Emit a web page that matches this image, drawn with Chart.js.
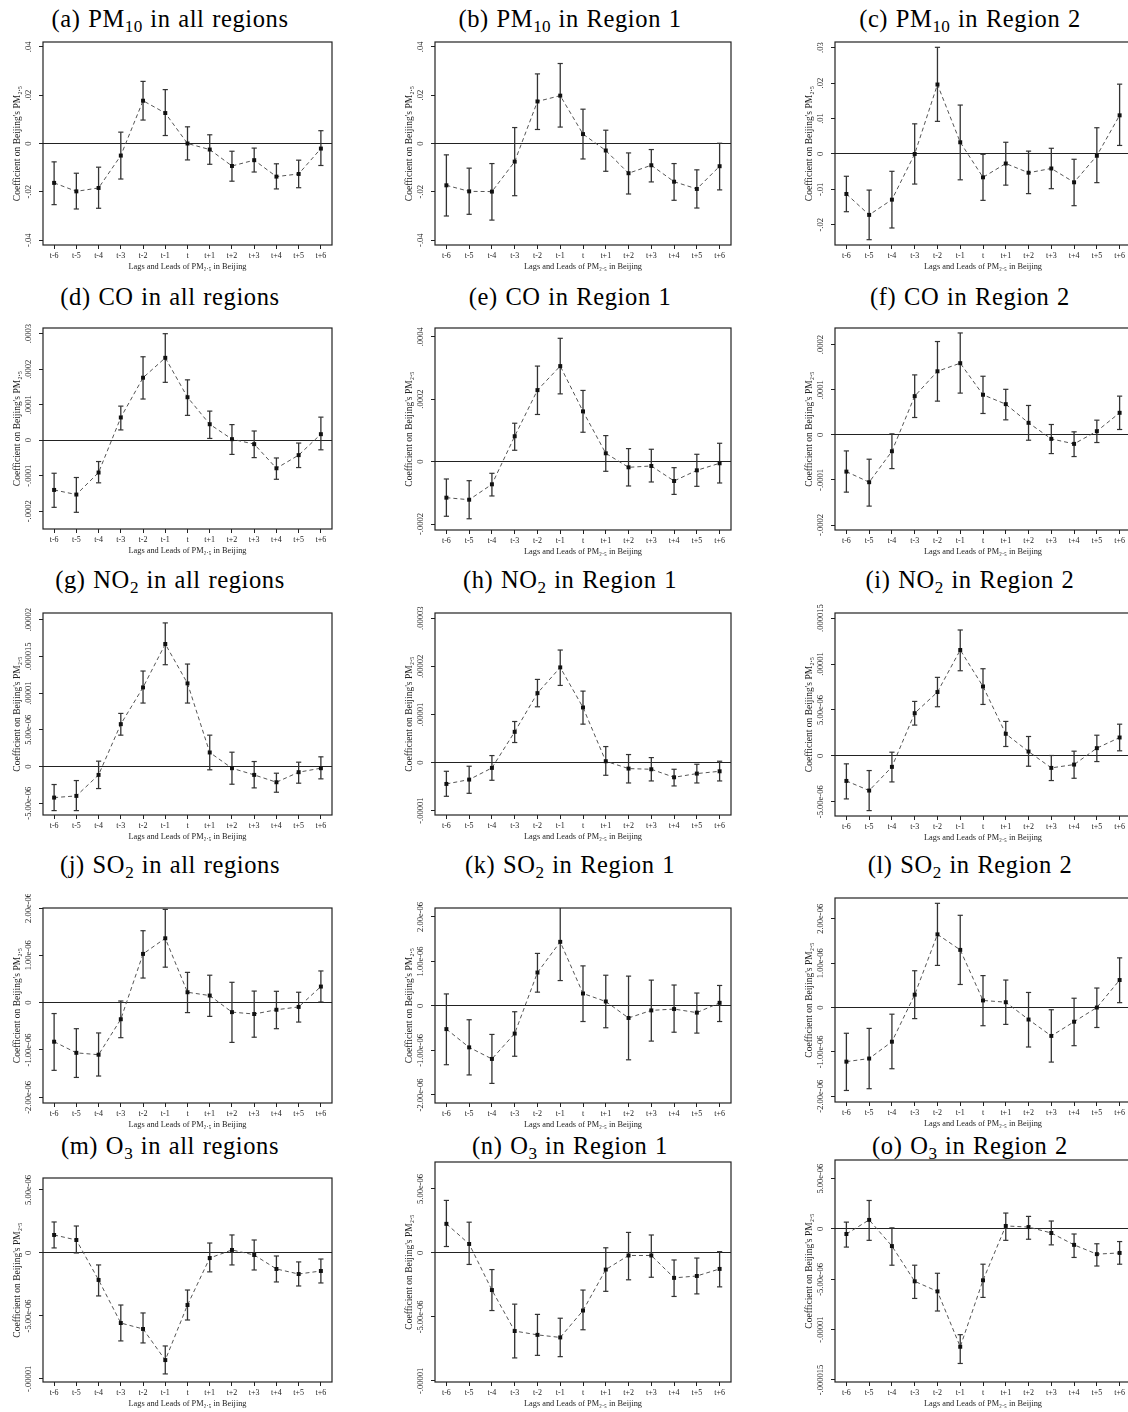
<!DOCTYPE html>
<html>
<head>
<meta charset="utf-8">
<script src="https://cdn.jsdelivr.net/npm/chart.js@4/dist/chart.umd.min.js"></script>
<style>
html, body { margin: 0; padding: 0; background: #fff; }
#page { position: relative; width: 1128px; height: 1412px; overflow: hidden; font-family: "Liberation Serif", "Times New Roman", serif; }
.ttl { position: absolute; white-space: nowrap; font-size: 24.5px; letter-spacing: 0.6px; word-spacing: 1px; color: #000; transform: translate(-50%, -50%); line-height: 1; }
.ttl sub { font-size: 0.7em; vertical-align: -0.3em; line-height: 0; letter-spacing: 0.3px; }
canvas { position: absolute; }
</style>
</head>
<body>
<div id="page"></div>
<script>
const xLabels = ["t-6", "t-5", "t-4", "t-3", "t-2", "t-1", "t", "t+1", "t+2", "t+3", "t+4", "t+5", "t+6"];

// (a) PM10, all regions
const aEst = [-0.0163, -0.0198, -0.0184, -0.0050, 0.0177, 0.0126, 0.0000, -0.0025, -0.0093, -0.0069, -0.0137, -0.0126, -0.0021];
const aLo  = [-0.0253, -0.0271, -0.0268, -0.0147, 0.0097, 0.0033, -0.0068, -0.0086, -0.0156, -0.0118, -0.0188, -0.0183, -0.0091];
const aHi  = [-0.0076, -0.0123, -0.0098, 0.0047, 0.0257, 0.0223, 0.0069, 0.0036, -0.0032, -0.0019, -0.0084, -0.0069, 0.0053];
const aTicks = [".04", ".02", "0", "-.02", "-.04"];
const aRange = [-0.042, 0.042];

// (b) PM10, region 1
const bEst = [-0.0173, -0.0198, -0.0199, -0.0075, 0.0174, 0.0198, 0.0039, -0.0029, -0.0123, -0.0090, -0.0158, -0.0188, -0.0094];
const bLo  = [-0.0300, -0.0293, -0.0317, -0.0216, 0.0058, 0.0068, -0.0064, -0.0115, -0.0209, -0.0159, -0.0235, -0.0267, -0.0192];
const bHi  = [-0.0047, -0.0102, -0.0083, 0.0066, 0.0288, 0.0331, 0.0142, 0.0055, -0.0039, -0.0025, -0.0083, -0.0109, 0.0001];
const bTicks = [".04", ".02", "0", "-.02", "-.04"];
const bRange = [-0.042, 0.042];

// (c) PM10, region 2
const cEst = [-0.0113, -0.0172, -0.0129, 0.0000, 0.0196, 0.0033, -0.0066, -0.0027, -0.0053, -0.0041, -0.0080, -0.0005, 0.0109];
const cLo  = [-0.0163, -0.0242, -0.0209, -0.0085, 0.0092, -0.0073, -0.0131, -0.0088, -0.0112, -0.0098, -0.0146, -0.0081, 0.0024];
const cHi  = [-0.0063, -0.0102, -0.0049, 0.0085, 0.0301, 0.0138, -0.0001, 0.0033, 0.0008, 0.0016, -0.0015, 0.0074, 0.0197];
const cTicks = [".03", ".02", ".01", "0", "-.01", "-.02"];
const cRange = [-0.0257, 0.0316];

// (d) CO, all regions
const dEst = [-1.40e-4, -1.53e-4, -0.91e-4, 0.64e-4, 1.76e-4, 2.32e-4, 1.21e-4, 0.45e-4, 0.03e-4, -0.11e-4, -0.79e-4, -0.42e-4, 0.17e-4];
const dLo  = [-1.89e-4, -2.03e-4, -1.20e-4, 0.29e-4, 1.16e-4, 1.63e-4, 0.70e-4, 0.05e-4, -0.40e-4, -0.49e-4, -1.10e-4, -0.77e-4, -0.27e-4];
const dHi  = [-0.93e-4, -1.05e-4, -0.60e-4, 0.96e-4, 2.35e-4, 3.00e-4, 1.70e-4, 0.82e-4, 0.44e-4, 0.26e-4, -0.50e-4, -0.08e-4, 0.65e-4];
const dTicks = [".0003", ".0002", ".0001", "0", "-.0001", "-.0002"];
const dRange = [-2.5e-4, 3.16e-4];

// (e) CO, region 1
const eEst = [-1.155e-4, -1.22e-4, -0.727e-4, 0.813e-4, 2.29e-4, 3.06e-4, 1.61e-4, 0.267e-4, -0.182e-4, -0.139e-4, -0.62e-4, -0.278e-4, -0.053e-4];
const eLo  = [-1.75e-4, -1.83e-4, -1.10e-4, 0.364e-4, 1.51e-4, 2.17e-4, 0.941e-4, -0.31e-4, -0.78e-4, -0.652e-4, -1.05e-4, -0.791e-4, -0.684e-4];
const eHi  = [-0.556e-4, -0.61e-4, -0.374e-4, 1.23e-4, 3.06e-4, 3.95e-4, 2.28e-4, 0.834e-4, 0.417e-4, 0.396e-4, -0.193e-4, 0.235e-4, 0.588e-4];
const eTicks = [".0004", ".0002", "0", "-.0002"];
const eRange = [-2.19e-4, 4.28e-4];

// (f) CO, region 2
const fEst = [-0.815e-4, -1.05e-4, -0.363e-4, 0.859e-4, 1.41e-4, 1.59e-4, 0.889e-4, 0.681e-4, 0.267e-4, -0.089e-4, -0.20e-4, 0.081e-4, 0.489e-4];
const fLo  = [-1.27e-4, -1.58e-4, -0.748e-4, 0.385e-4, 0.748e-4, 0.926e-4, 0.474e-4, 0.333e-4, -0.119e-4, -0.415e-4, -0.481e-4, -0.17e-4, 0.119e-4];
const fHi  = [-0.356e-4, -0.54e-4, 0.022e-4, 1.33e-4, 2.07e-4, 2.26e-4, 1.30e-4, 1.01e-4, 0.652e-4, 0.23e-4, 0.067e-4, 0.326e-4, 0.859e-4];
const fTicks = [".0002", ".0001", "0", "-.0001", "-.0002"];
const fRange = [-2.11e-4, 2.37e-4];

// (g) NO2, all regions
const gEst = [-4.23e-6, -4.0e-6, -1.14e-6, 5.77e-6, 10.77e-6, 16.68e-6, 11.32e-6, 1.91e-6, -0.23e-6, -1.14e-6, -2.14e-6, -0.77e-6, -0.23e-6];
const gLo  = [-6.0e-6, -6.0e-6, -3.0e-6, 4.27e-6, 8.64e-6, 13.86e-6, 8.64e-6, -0.45e-6, -2.41e-6, -2.91e-6, -3.5e-6, -2.27e-6, -1.68e-6];
const gHi  = [-2.45e-6, -1.91e-6, 0.73e-6, 7.23e-6, 13.0e-6, 19.55e-6, 13.95e-6, 4.27e-6, 1.95e-6, 0.68e-6, -0.91e-6, 0.59e-6, 1.32e-6];
const gTicks = [".00002", ".000015", ".00001", "5.00e-06", "0", "-5.00e-06"];
const gRange = [-6.6e-6, 20.9e-6];

// (h) NO2, region 1
const hEst = [-4.44e-6, -3.54e-6, -1.11e-6, 6.39e-6, 14.44e-6, 19.79e-6, 11.46e-6, 0.28e-6, -1.25e-6, -1.39e-6, -3.06e-6, -2.29e-6, -1.81e-6];
const hLo  = [-7.01e-6, -6.39e-6, -3.68e-6, 4.17e-6, 11.6e-6, 16.04e-6, 7.99e-6, -2.64e-6, -4.24e-6, -3.82e-6, -4.86e-6, -4.24e-6, -3.82e-6];
const hHi  = [-1.81e-6, -0.76e-6, 1.46e-6, 8.54e-6, 17.29e-6, 23.4e-6, 14.86e-6, 3.33e-6, 1.67e-6, 1.04e-6, -1.39e-6, -0.35e-6, 0.28e-6];
const hTicks = [".00003", ".00002", ".00001", "0", "-.00001"];
const hRange = [-10.9e-6, 31.1e-6];

// (i) NO2, region 2
const iEst = [-2.73e-6, -3.78e-6, -1.2e-6, 4.65e-6, 6.95e-6, 11.53e-6, 7.56e-6, 2.4e-6, 0.47e-6, -1.31e-6, -0.95e-6, 0.84e-6, 2.0e-6];
const iLo  = [-4.69e-6, -5.96e-6, -2.84e-6, 3.35e-6, 5.35e-6, 9.27e-6, 5.6e-6, 1.02e-6, -1.13e-6, -2.69e-6, -2.44e-6, -0.62e-6, 0.55e-6];
const iHi  = [-0.87e-6, -1.6e-6, 0.4e-6, 5.93e-6, 8.55e-6, 13.71e-6, 9.49e-6, 3.75e-6, 2.11e-6, 0.04e-6, 0.51e-6, 2.25e-6, 3.45e-6];
const iTicks = [".000015", ".00001", "5.00e-06", "0", "-5.00e-06"];
const iRange = [-6.55e-6, 15.56e-6];

// (j) SO2, all regions
const jEst = [-0.825e-6, -1.06e-6, -1.1e-6, -0.35e-6, 1.03e-6, 1.36e-6, 0.22e-6, 0.15e-6, -0.2e-6, -0.24e-6, -0.15e-6, -0.09e-6, 0.34e-6];
const jLo  = [-1.43e-6, -1.58e-6, -1.55e-6, -0.74e-6, 0.52e-6, 0.75e-6, -0.21e-6, -0.29e-6, -0.84e-6, -0.73e-6, -0.55e-6, -0.41e-6, 0.014e-6];
const jHi  = [-0.23e-6, -0.55e-6, -0.64e-6, 0.035e-6, 1.52e-6, 1.97e-6, 0.64e-6, 0.58e-6, 0.43e-6, 0.245e-6, 0.24e-6, 0.22e-6, 0.67e-6];
const jTicks = ["2.00e-06", "1.00e-06", "0", "-1.00e-06", "-2.00e-06"];
const jRange = [-2.12e-6, 2.0e-6];

// (k) SO2, region 1
const kEst = [-0.52e-6, -0.93e-6, -1.19e-6, -0.62e-6, 0.75e-6, 1.44e-6, 0.28e-6, 0.1e-6, -0.27e-6, -0.1e-6, -0.07e-6, -0.15e-6, 0.07e-6];
const kLo  = [-1.32e-6, -1.55e-6, -1.74e-6, -1.13e-6, 0.31e-6, 0.57e-6, -0.35e-6, -0.49e-6, -1.21e-6, -0.79e-6, -0.59e-6, -0.61e-6, -0.35e-6];
const kHi  = [0.27e-6, -0.31e-6, -0.64e-6, -0.13e-6, 1.18e-6, 2.3e-6, 0.9e-6, 0.69e-6, 0.67e-6, 0.58e-6, 0.47e-6, 0.29e-6, 0.46e-6];
const kTicks = ["2.00e-06", "1.00e-06", "0", "-1.00e-06", "-2.00e-06"];
const kRange = [-2.18e-6, 2.2e-6];

// (l) SO2, region 2
const lEst = [-1.22e-6, -1.15e-6, -0.77e-6, 0.29e-6, 1.65e-6, 1.3e-6, 0.16e-6, 0.12e-6, -0.27e-6, -0.64e-6, -0.32e-6, 0.0, 0.62e-6];
const lLo  = [-1.87e-6, -1.83e-6, -1.38e-6, -0.25e-6, 0.95e-6, 0.52e-6, -0.41e-6, -0.38e-6, -0.89e-6, -1.23e-6, -0.86e-6, -0.45e-6, 0.11e-6];
const lHi  = [-0.58e-6, -0.47e-6, -0.15e-6, 0.83e-6, 2.35e-6, 2.08e-6, 0.72e-6, 0.62e-6, 0.34e-6, -0.05e-6, 0.21e-6, 0.44e-6, 1.12e-6];
const lTicks = ["2.00e-06", "1.00e-06", "0", "-1.00e-06", "-2.00e-06"];
const lRange = [-2.13e-6, 2.47e-6];

// (m) O3, all regions
const mEst = [1.43e-6, 1.03e-6, -2.14e-6, -5.56e-6, -6.03e-6, -8.5e-6, -4.13e-6, -0.4e-6, 0.24e-6, -0.16e-6, -1.27e-6, -1.67e-6, -1.43e-6];
const mLo  = [0.4e-6, 0.0, -3.41e-6, -6.98e-6, -7.14e-6, -9.6e-6, -5.32e-6, -1.5e-6, -0.95e-6, -1.35e-6, -2.3e-6, -2.62e-6, -2.38e-6];
const mHi  = [2.46e-6, 2.14e-6, -0.95e-6, -4.13e-6, -4.76e-6, -7.38e-6, -2.94e-6, 0.79e-6, 1.43e-6, 1.03e-6, -0.24e-6, -0.71e-6, -0.48e-6];
const mTicks = ["5.00e-06", "0", "-5.00e-06", "-.00001"];
const mRange = [-10.24e-6, 5.95e-6];

// (n) O3, region 1
const nEst = [2.27e-6, 0.7e-6, -2.9e-6, -6.1e-6, -6.4e-6, -6.6e-6, -4.5e-6, -1.3e-6, -0.2e-6, -0.2e-6, -1.95e-6, -1.8e-6, -1.25e-6];
const nLo  = [0.5e-6, -0.9e-6, -4.5e-6, -8.2e-6, -8.0e-6, -8.1e-6, -6.0e-6, -3.0e-6, -2.1e-6, -1.9e-6, -3.4e-6, -3.2e-6, -2.65e-6];
const nHi  = [4.1e-6, 2.4e-6, -1.3e-6, -4.0e-6, -4.8e-6, -5.1e-6, -2.9e-6, 0.4e-6, 1.6e-6, 1.4e-6, -0.55e-6, -0.4e-6, 0.1e-6];
const nTicks = ["5.00e-06", "0", "-5.00e-06", "-.00001"];
const nRange = [-10.08e-6, 7.1e-6];

// (o) O3, region 2
const oEst = [-0.5e-6, 0.9e-6, -1.7e-6, -5.2e-6, -6.2e-6, -11.7e-6, -5.1e-6, 0.3e-6, 0.19e-6, -0.4e-6, -1.58e-6, -2.5e-6, -2.38e-6];
const oLo  = [-1.8e-6, -1.13e-6, -3.6e-6, -6.9e-6, -8.15e-6, -13.36e-6, -6.8e-6, -1.13e-6, -1.02e-6, -1.58e-6, -2.83e-6, -3.68e-6, -3.5e-6];
const oHi  = [0.68e-6, 2.83e-6, 0.11e-6, -3.6e-6, -4.4e-6, -10.5e-6, -3.5e-6, 1.58e-6, 1.25e-6, 0.79e-6, -0.5e-6, -1.47e-6, -1.25e-6];
const oTicks = ["5.00e-06", "0", "-5.00e-06", "-.00001", "-.000015"];
const oRange = [-15.2e-6, 6.85e-6];

const titles = [
  "(a) PM<sub>10</sub> in all regions", "(b) PM<sub>10</sub> in Region 1", "(c) PM<sub>10</sub> in Region 2",
  "(d) CO in all regions", "(e) CO in Region 1", "(f) CO in Region 2",
  "(g) NO<sub>2</sub> in all regions", "(h) NO<sub>2</sub> in Region 1", "(i) NO<sub>2</sub> in Region 2",
  "(j) SO<sub>2</sub> in all regions", "(k) SO<sub>2</sub> in Region 1", "(l) SO<sub>2</sub> in Region 2",
  "(m) O<sub>3</sub> in all regions", "(n) O<sub>3</sub> in Region 1", "(o) O<sub>3</sub> in Region 2"
];

const panels = [
  [aEst, aLo, aHi, aTicks, aRange], [bEst, bLo, bHi, bTicks, bRange], [cEst, cLo, cHi, cTicks, cRange],
  [dEst, dLo, dHi, dTicks, dRange], [eEst, eLo, eHi, eTicks, eRange], [fEst, fLo, fHi, fTicks, fRange],
  [gEst, gLo, gHi, gTicks, gRange], [hEst, hLo, hHi, hTicks, hRange], [iEst, iLo, iHi, iTicks, iRange],
  [jEst, jLo, jHi, jTicks, jRange], [kEst, kLo, kHi, kTicks, kRange], [lEst, lLo, lHi, lTicks, lRange],
  [mEst, mLo, mHi, mTicks, mRange], [nEst, nLo, nHi, nTicks, nRange], [oEst, oLo, oHi, oTicks, oRange]
];

// layout: plot box [left, top, right, bottom] per panel, title centres per column / row
const boxes = [
  [43, 42, 332, 245], [435, 42, 731, 245], [835, 42, 1131, 245],
  [43, 328, 332, 529], [435, 328, 731, 530], [835, 328, 1131, 530],
  [43, 613, 332, 815], [435, 613, 731, 815], [835, 613, 1131, 816],
  [43, 908, 332, 1103], [435, 908, 731, 1103], [835, 898, 1131, 1102],
  [43, 1178, 332, 1382], [435, 1162, 731, 1382], [835, 1160, 1131, 1382]
];
const titleX = [170, 570, 970];
const titleY = [19, 297, 580, 865, 1146];

const FONT = '"Liberation Serif", "Times New Roman", serif';
const INK = "#222";
const page = document.getElementById("page");

const boxPlugin = {
  id: "box",
  afterDraw(chart) {
    const { ctx, chartArea: a } = chart;
    ctx.save();
    ctx.strokeStyle = INK;
    ctx.lineWidth = 1.2;
    ctx.strokeRect(a.left, a.top, a.right - a.left, a.bottom - a.top);
    ctx.restore();
  }
};

const measure = document.createElement("canvas").getContext("2d");

function makePanel(idx) {
  const [est, lo, hi, tickLabels, range] = panels[idx];
  const [L, T, R, B] = boxes[idx];
  const yAxisW = 32, padTop = 14, xAxisH = 27, padRight = 6;

  const t = document.createElement("div");
  t.className = "ttl";
  t.innerHTML = titles[idx];
  t.style.left = titleX[idx % 3] + "px";
  t.style.top = titleY[Math.floor(idx / 3)] + "px";
  page.appendChild(t);

  const cv = document.createElement("canvas");
  const w = R - L + yAxisW + padRight, h = B - T + padTop + xAxisH;
  cv.width = w; cv.height = h;
  cv.style.left = (L - yAxisW) + "px";
  cv.style.top = (T - padTop) + "px";
  cv.style.width = w + "px"; cv.style.height = h + "px";
  page.appendChild(cv);

  const xs = xLabels.map((_, i) => i - 6);
  const pts = xs.map((x, i) => ({ x, y: est[i] }));
  const bars = [], caps = [];
  xs.forEach((x, i) => {
    bars.push({ x, y: lo[i] }, { x, y: hi[i] }, { x, y: null });
    caps.push({ x, y: lo[i] }, { x, y: hi[i] });
  });
  const tickVals = tickLabels.map(Number);

  measure.font = "8.5px " + FONT;
  const widest = Math.max(...tickLabels.map(s => measure.measureText(s).width));

  new Chart(cv, {
    type: "line",
    data: {
      datasets: [
        { data: bars, borderColor: "#333", borderWidth: 1.3, pointRadius: 0, spanGaps: false, order: 3 },
        { type: "scatter", data: caps, showLine: false, pointStyle: "line", pointRadius: 2.6,
          pointBorderColor: "#333", pointBorderWidth: 1.2, order: 2 },
        { data: pts, borderColor: "#555", borderWidth: 1, borderDash: [4, 3], pointStyle: "rect",
          pointRadius: 2.8, pointBackgroundColor: "#111", pointBorderColor: "#111", pointBorderWidth: 0, order: 1 }
      ]
    },
    options: {
      responsive: false,
      animation: false,
      events: [],
      layout: { padding: { top: padTop, right: padRight, left: 0, bottom: 0 } },
      plugins: { legend: { display: false }, tooltip: { enabled: false } },
      scales: {
        x: {
          type: "linear", min: -6.5, max: 6.5,
          afterBuildTicks: s => { s.ticks = xs.map(v => ({ value: v })); },
          afterFit: s => { s.height = xAxisH; },
          ticks: { callback: v => xLabels[Math.round(v) + 6], font: { family: FONT, size: 8 }, color: INK,
                   padding: 2, maxRotation: 0, autoSkip: false },
          grid: { drawOnChartArea: false, tickLength: 4, tickColor: INK, tickWidth: 1 },
          border: { display: false },
          title: { display: true, text: "Lags and Leads of PM\u2082.\u2085 in Beijing",
                   font: { family: FONT, size: 8.3 }, color: INK, padding: { top: -2, bottom: 0 } }
        },
        y: {
          type: "linear", min: range[0], max: range[1],
          afterBuildTicks: s => { s.ticks = tickVals.map(v => ({ value: v })); },
          afterFit: s => { s.width = yAxisW; },
          ticks: { callback: (v, i) => tickLabels[i], font: { family: FONT, size: 8.5 }, color: INK,
                   minRotation: 90, maxRotation: 90, crossAlign: "center", padding: 10 - widest / 2, autoSkip: false },
          grid: { color: c => (c.tick && c.tick.value === 0 ? INK : "rgba(0,0,0,0)"), lineWidth: 1,
                  tickLength: 4, tickColor: INK, tickWidth: 1 },
          border: { display: false },
          title: { display: true, text: "Coefficient on Beijing's PM\u2082.\u2085",
                   font: { family: FONT, size: 9.5 }, color: INK, padding: { top: 1, bottom: 0 } }
        }
      }
    },
    plugins: [boxPlugin]
  });
}

panels.forEach((_, i) => makePanel(i));
</script>
</body>
</html>
